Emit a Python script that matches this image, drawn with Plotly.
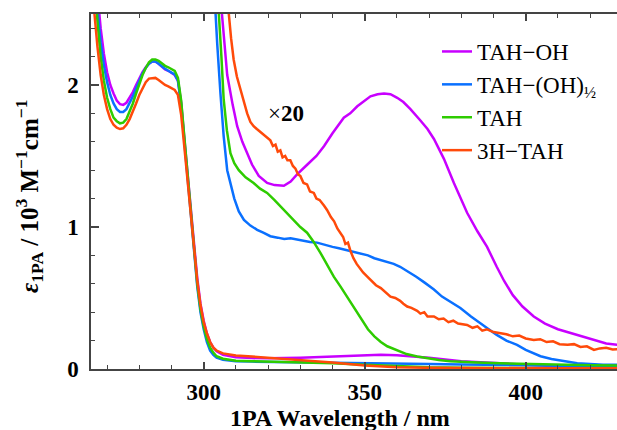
import plotly.graph_objects as go

# ---------------- data ----------------
series_names = ["TAH−OH", "TAH−(OH)<sub>½</sub>", "TAH", "3H−TAH"]
series_colors = ["#C800FF", "#0A70FF", "#2ECC00", "#FF4A0A"]

# 1x spectra (common wavelength grid, nm)
wl_1x = [265, 266, 267, 268, 269, 270, 271, 272, 273, 274, 275, 276, 277, 278, 279, 280,
         281, 282, 283, 284, 285, 286, 287, 288, 289, 290, 291, 292, 293, 294, 295, 296,
         297, 298, 299, 300, 301, 302, 303, 304, 306, 308, 310, 315, 320, 330, 340, 350,
         355, 360, 370, 380, 390, 400, 410, 420, 430]

eps_oh = [3.4, 3.0, 2.65, 2.4, 2.22, 2.09, 2.0, 1.94, 1.89, 1.865, 1.86, 1.875, 1.91, 1.95, 2.0, 2.05,
          2.09, 2.125, 2.15, 2.165, 2.165, 2.15, 2.13, 2.11, 2.10, 2.085, 2.07, 2.03, 1.88, 1.62, 1.38, 1.13,
          0.88, 0.64, 0.46, 0.34, 0.25, 0.19, 0.15, 0.125, 0.10, 0.09, 0.083, 0.077, 0.075, 0.08, 0.088, 0.097,
          0.10, 0.097, 0.08, 0.055, 0.04, 0.03, 0.02, 0.012, 0.008]

eps_oh12 = [3.2, 2.85, 2.53, 2.3, 2.14, 2.02, 1.93, 1.87, 1.83, 1.81, 1.81, 1.83, 1.87, 1.92, 1.975, 2.03,
            2.08, 2.12, 2.15, 2.165, 2.165, 2.15, 2.13, 2.115, 2.10, 2.09, 2.075, 2.03, 1.86, 1.60, 1.34, 1.08,
            0.82, 0.58, 0.40, 0.28, 0.19, 0.13, 0.10, 0.08, 0.065, 0.058, 0.055, 0.052, 0.05, 0.047, 0.045, 0.042,
            0.04, 0.038, 0.035, 0.032, 0.03, 0.028, 0.024, 0.02, 0.017]

eps_tah = [3.1, 2.75, 2.45, 2.2, 2.03, 1.91, 1.83, 1.77, 1.745, 1.73, 1.735, 1.76, 1.81, 1.87, 1.94, 2.01,
           2.07, 2.12, 2.16, 2.18, 2.18, 2.17, 2.15, 2.135, 2.125, 2.115, 2.10, 2.05, 1.89, 1.63, 1.36, 1.10,
           0.84, 0.60, 0.42, 0.30, 0.21, 0.15, 0.115, 0.09, 0.072, 0.063, 0.058, 0.055, 0.052, 0.048, 0.04, 0.03,
           0.025, 0.02, 0.012, 0.008, 0.006, 0.005, 0.004, 0.003, 0.003]

eps_3h = [2.85, 2.52, 2.27, 2.07, 1.93, 1.83, 1.76, 1.72, 1.70, 1.69, 1.695, 1.72, 1.76, 1.81, 1.87, 1.93,
          1.98, 2.02, 2.045, 2.05, 2.05, 2.035, 2.015, 2.0, 1.99, 1.98, 1.965, 1.93, 1.79, 1.56, 1.32, 1.08,
          0.84, 0.62, 0.45, 0.33, 0.25, 0.19, 0.15, 0.13, 0.11, 0.10, 0.095, 0.088, 0.08, 0.066, 0.045, 0.025,
          0.018, 0.013, 0.008, 0.006, 0.005, 0.005, 0.005, 0.005, 0.005]

# x20 magnified spectra (values as displayed, i.e. already multiplied by 20)
wl_x20_oh = [303, 305.7, 307.3, 309, 310.4, 312, 313.5, 315, 317.1, 319.7, 322, 324.9, 327, 329, 332.2,
             335, 337.4, 340, 343.5, 345.5, 347.7, 350, 351.8, 354, 356, 358, 360.1, 362, 364.2, 367.3,
             369.5, 371.5, 374.6, 377.7, 381.8, 385, 388, 391, 393.3, 396, 399, 402.5, 406, 410, 413,
             417, 421.2, 425, 428.5]
x20_oh = [3.2, 2.5, 2.07, 1.86, 1.71, 1.6, 1.52, 1.44, 1.36, 1.31, 1.295, 1.29, 1.32, 1.37, 1.44,
          1.50, 1.57, 1.66, 1.77, 1.80, 1.85, 1.89, 1.92, 1.935, 1.94, 1.935, 1.91, 1.88, 1.83, 1.75,
          1.69, 1.62, 1.48, 1.31, 1.10, 0.97, 0.86, 0.72, 0.62, 0.52, 0.44, 0.37, 0.32, 0.28, 0.26,
          0.23, 0.20, 0.18, 0.17]

wl_x20_oh12 = [302, 303.6, 304.2, 305.2, 306.2, 307.3, 308.3, 309.5, 310.9, 312.5, 314.5, 316.6, 318.5,
               320.7, 323, 325, 327, 329, 331, 333, 335.2, 338, 340, 342, 345.6, 348, 351, 353, 356, 359,
               361, 363.2, 366, 368.5, 371.5, 374, 377, 379.7, 383, 386, 388, 391, 394, 397.3, 400,
               404.6, 408, 412.9, 416, 420, 424, 428.5]
x20_oh12 = [3.2, 2.5, 2.29, 1.94, 1.64, 1.40, 1.31, 1.20, 1.11, 1.05, 1.01, 0.98, 0.96,
            0.935, 0.925, 0.915, 0.92, 0.91, 0.90, 0.895, 0.89, 0.87, 0.86, 0.85, 0.83, 0.815, 0.80, 0.78, 0.76, 0.74,
            0.72, 0.69, 0.65, 0.61, 0.56, 0.51, 0.47, 0.43, 0.37, 0.32, 0.29, 0.24, 0.20, 0.17, 0.135,
            0.09, 0.07, 0.05, 0.04, 0.035, 0.03, 0.03]

wl_x20_tah = [303.5, 304.7, 305.5, 306.2, 307.2, 308.3, 309.5, 310.9, 313, 315.5, 317.5, 319.7, 322, 324.9,
              327, 330, 332.1, 334, 336.2, 338.3, 340.4, 342.5, 344.5, 346.5, 348.5, 351, 353, 355, 357,
              360, 363, 366.3, 370, 373, 376.6, 380, 385, 392, 400, 407, 413, 420, 428.5]
x20_tah = [3.2, 2.5, 2.2, 1.9, 1.68, 1.52, 1.45, 1.40, 1.35, 1.31, 1.27, 1.24, 1.19, 1.12,
           1.07, 1.00, 0.96, 0.90, 0.82, 0.73, 0.65, 0.58, 0.51, 0.44, 0.37, 0.28, 0.23, 0.19, 0.16,
           0.13, 0.105, 0.088, 0.072, 0.063, 0.055, 0.05, 0.045, 0.04, 0.035, 0.032, 0.03, 0.027, 0.025]

wl_x20_3h = [306.5, 307.8, 308.5, 309.3, 310.3, 311.4, 312.5, 313.5, 314.5, 315.5, 316.5, 317.5, 318.5,
             319.5, 320.7, 321.5, 322.3, 323, 323.8, 324.5, 325.3, 326, 326.9, 327.7, 328.5, 329.3, 330,
             331, 332.1, 333, 334.2, 335, 336, 337.4, 338.3, 339.5, 340.5, 341.5, 342.5, 343.3, 344,
             344.8, 345.6, 346.5, 347.5, 348.5, 349.5, 350.8, 352, 353.5, 355, 356, 357, 358, 359.5, 361,
             362, 363.2, 364.5, 366.3, 367.3, 368.5, 369.5, 371.5, 373, 374.5, 376, 377.5, 379, 380.5,
             381.8, 383.5, 385, 386.5, 388, 390, 392.2, 394, 396, 398, 400, 402.5, 404.5, 406.5, 408.5,
             410.5, 413, 415, 417, 419, 421.2, 423, 425, 427, 428.5]
x20_3h = [3.0, 2.5, 2.33, 2.18, 2.06, 1.97, 1.88, 1.80, 1.74, 1.71, 1.69, 1.67, 1.65,
          1.63, 1.61, 1.57, 1.58, 1.53, 1.54, 1.49, 1.50, 1.47, 1.47, 1.43, 1.41, 1.37, 1.36,
          1.31, 1.30, 1.25, 1.24, 1.20, 1.19, 1.15, 1.12, 1.07, 1.04, 0.99, 0.96, 0.93, 0.88,
          0.89, 0.83, 0.78, 0.74, 0.71, 0.68, 0.65, 0.62, 0.59, 0.57, 0.55, 0.535, 0.51, 0.50, 0.48,
          0.46, 0.44, 0.43, 0.41, 0.39, 0.40, 0.37, 0.37, 0.35, 0.355, 0.33, 0.34, 0.32, 0.315,
          0.31, 0.29, 0.30, 0.27, 0.28, 0.26, 0.25, 0.245, 0.23, 0.235, 0.215, 0.205, 0.21, 0.19, 0.195,
          0.175, 0.17, 0.175, 0.155, 0.16, 0.134, 0.145, 0.15, 0.138, 0.14]

x_ticks = [300, 350, 400]
y_ticks = [0, 1, 2]
x_range = [265, 428.35]
y_range = [0, 2.5]

# ---------------- figure ----------------
FONT = "Liberation Serif, Times New Roman, serif"
fig = go.Figure()

one_x = [eps_oh, eps_oh12, eps_tah, eps_3h]
mag = [(wl_x20_oh, x20_oh), (wl_x20_oh12, x20_oh12), (wl_x20_tah, x20_tah), (wl_x20_3h, x20_3h)]

for i, name in enumerate(series_names):
    fig.add_trace(go.Scatter(x=wl_1x, y=one_x[i], mode="lines", name=name,
                             legendgroup=f"g{i}", showlegend=True,
                             line=dict(color=series_colors[i], width=2.5)))
for i, name in enumerate(series_names):
    fig.add_trace(go.Scatter(x=mag[i][0], y=mag[i][1], mode="lines", name=name + " ×20",
                             legendgroup=f"g{i}", showlegend=False,
                             line=dict(color=series_colors[i], width=2.5)))

axis_col = "#444444"
fig.update_xaxes(range=x_range, tickvals=x_ticks, ticks="inside", ticklen=7, tickwidth=1.5,
                 tickcolor=axis_col, showline=True, linecolor=axis_col, linewidth=1.5,
                 mirror="ticks", showgrid=False, zeroline=False,
                 minor=dict(dtick=10, tick0=0, ticks="inside", ticklen=4, tickwidth=1.2, tickcolor=axis_col),
                 tickfont=dict(family=FONT, size=23, color="black", weight="bold"),
                 ticklabelstandoff=2)
fig.update_yaxes(range=y_range, tickvals=y_ticks, ticks="inside", ticklen=8, tickwidth=1.5,
                 tickcolor=axis_col, showline=True, linecolor=axis_col, linewidth=1.5,
                 showgrid=False, zeroline=False,
                 minor=dict(dtick=0.2, tick0=0, ticks="inside", ticklen=4, tickwidth=1.2, tickcolor=axis_col),
                 tickfont=dict(family=FONT, size=23, color="black", weight="bold"),
                 ticklabelstandoff=6)

fig.add_annotation(text="<b>1PA Wavelength / nm</b>", xref="paper", yref="paper",
                   x=(340 - 91) / 526, y=(369 - 418) / 355, xanchor="center", yanchor="middle",
                   showarrow=False, font=dict(family=FONT, size=24, color="black"))
fig.add_annotation(text="<b><i>ε</i><sub>1PA</sub> / 10<sup>3</sup> M<sup>−1</sup>cm<sup>−1</sup></b>",
                   xref="paper", yref="paper", textangle=-90,
                   x=(29 - 91) / 526, y=(369 - 196) / 355, xanchor="center", yanchor="middle",
                   showarrow=False, font=dict(family=FONT, size=25, color="black"))
fig.add_annotation(text="×<b>20</b>", x=325.5, y=1.80, xref="x", yref="y",
                   showarrow=False, font=dict(family=FONT, size=23, color="black"))

fig.update_layout(
    width=617, height=430,
    margin=dict(l=91, r=0, t=14, b=61),
    paper_bgcolor="white", plot_bgcolor="white",
    showlegend=True,
    legend=dict(x=(437 - 91) / 526, y=(369 - 30) / 355, xanchor="left", yanchor="top",
                font=dict(family=FONT, size=23, color="black"),
                bgcolor="rgba(0,0,0,0)", tracegroupgap=0, itemwidth=30),
)

fig.write_html("out.html")
